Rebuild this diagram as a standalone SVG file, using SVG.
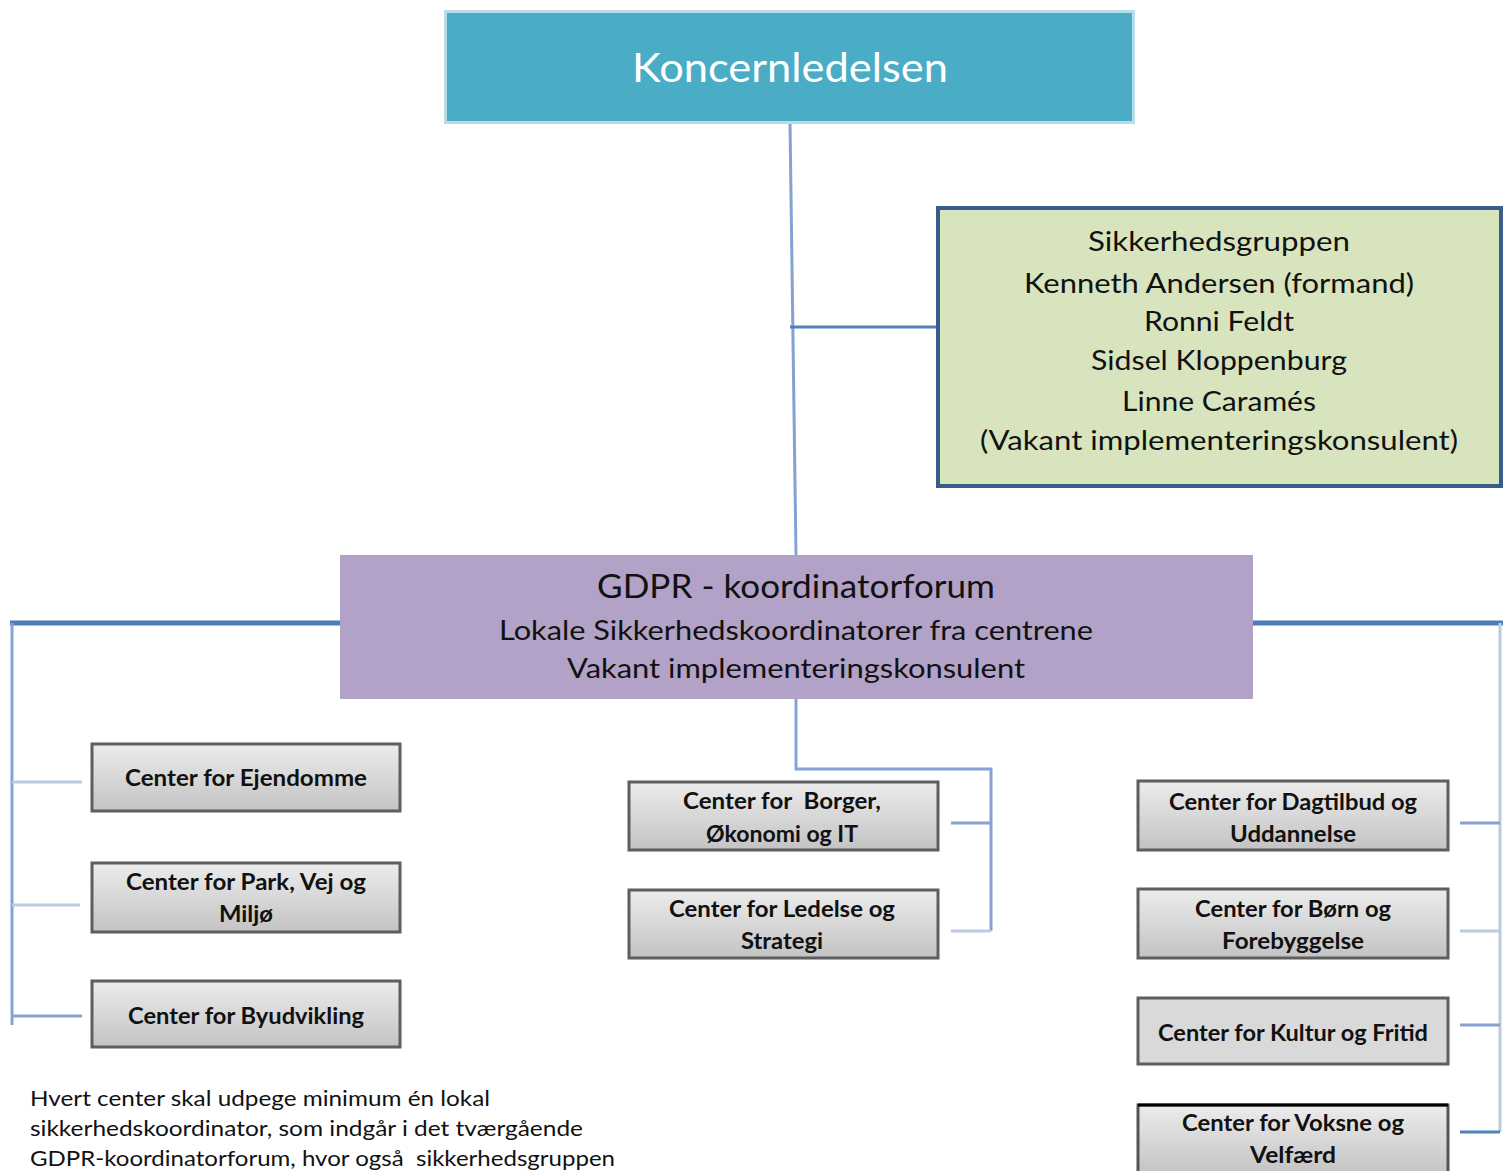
<svg xmlns="http://www.w3.org/2000/svg" width="1512" height="1171" viewBox="0 0 1512 1171">
<defs>
<linearGradient id="gray" x1="0" y1="0" x2="0" y2="1">
<stop offset="0" stop-color="#ECECEC"/>
<stop offset="1" stop-color="#C3C3C3"/>
</linearGradient>
<style>
.c{font-family:Lato,"Liberation Sans",sans-serif;font-size:22px;fill:#111;text-anchor:middle;font-weight:bold;}
.box{fill:url(#gray);stroke:#5E5E5E;stroke-width:3;}
.ln{fill:none;stroke:#85A2D2;stroke-width:3;}
.thick{fill:none;stroke:#4A7EBB;stroke-width:5;}
.s{font-family:Lato,"Liberation Sans",sans-serif;font-size:27px;fill:#111;text-anchor:middle;}
.g{font-family:Lato,"Liberation Sans",sans-serif;fill:#111;text-anchor:middle;}
.f{font-family:Lato,"Liberation Sans",sans-serif;font-size:21px;fill:#111;}
</style>
</defs>
<rect width="1512" height="1171" fill="#fff"/>
<g id="connectors">
<path class="ln" d="M790 123 L796 555"/>
<path class="ln" d="M790 327 H937" style="stroke:#4F81BD"/>
<path class="thick" d="M10 623 H340"/>
<path class="thick" d="M1253 623 H1503"/>
<path class="ln" d="M12 623 V1025"/>
<path class="ln" d="M12 782 H82" style="stroke:#BCCBE4"/>
<path class="ln" d="M12 905 H80" style="stroke:#BCCBE4"/>
<path class="ln" d="M12 1016 H82"/>
<path class="ln" d="M1500 623 V1132" style="stroke:#BCCBE4"/>
<path class="ln" d="M1460 823 H1500"/>
<path class="ln" d="M1460 931 H1500" style="stroke:#BCCBE4"/>
<path class="ln" d="M1460 1025 H1500"/>
<path class="ln" d="M1460 1132 H1500" style="stroke:#4F81BD"/>
<path class="ln" d="M796 699 V769 H991 V931" />
<path class="ln" d="M951 823 H991"/>
<path class="ln" d="M951 931 H991" style="stroke:#BCCBE4"/>
</g>
<g id="koncernledelsen">
<rect x="445.5" y="11.5" width="688" height="111" fill="#4BACC6" stroke="#B7DEE8" stroke-width="3"/>
<text x="790" y="82" font-family="Lato,'Liberation Sans',sans-serif" font-size="40" fill="#fff" text-anchor="middle" textLength="316" lengthAdjust="spacingAndGlyphs">Koncernledelsen</text>
</g>
<g id="sikkerhedsgruppen">
<rect x="938" y="208" width="563" height="278" fill="#D7E4BD" stroke="#385D8A" stroke-width="4"/>
<text class="s" x="1219" y="251" textLength="262" lengthAdjust="spacingAndGlyphs">Sikkerhedsgruppen</text>
<text class="s" x="1219" y="293" textLength="390" lengthAdjust="spacingAndGlyphs">Kenneth Andersen (formand)</text>
<text class="s" x="1219" y="331" textLength="150" lengthAdjust="spacingAndGlyphs">Ronni Feldt</text>
<text class="s" x="1219" y="370" textLength="256" lengthAdjust="spacingAndGlyphs">Sidsel Kloppenburg</text>
<text class="s" x="1219" y="411" textLength="194" lengthAdjust="spacingAndGlyphs">Linne Caramés</text>
<text class="s" x="1219" y="450" textLength="478" lengthAdjust="spacingAndGlyphs">(Vakant implementeringskonsulent)</text>
</g>
<g id="gdpr">
<rect x="340" y="555" width="913" height="144" fill="#B2A2C7"/>
<text class="g" x="796" y="598" font-size="32" textLength="398" lengthAdjust="spacingAndGlyphs">GDPR - koordinatorforum</text>
<text class="g" x="796" y="640" font-size="26" textLength="594" lengthAdjust="spacingAndGlyphs">Lokale Sikkerhedskoordinatorer fra centrene</text>
<text class="g" x="796" y="678" font-size="26" textLength="458" lengthAdjust="spacingAndGlyphs">Vakant implementeringskonsulent</text>
</g>
<g id="ejendomme">
<rect class="box" x="92" y="744" width="308" height="67"/>
<text class="c" x="246" y="786" textLength="242" lengthAdjust="spacingAndGlyphs">Center for Ejendomme</text>
</g>
<g id="park">
<rect class="box" x="92" y="863" width="308" height="69"/>
<text class="c" x="246" y="890" textLength="240" lengthAdjust="spacingAndGlyphs">Center for Park, Vej og</text>
<text class="c" x="246" y="922" textLength="54" lengthAdjust="spacingAndGlyphs">Miljø</text>
</g>
<g id="byudvikling">
<rect class="box" x="92" y="981" width="308" height="66"/>
<text class="c" x="246" y="1024" textLength="236" lengthAdjust="spacingAndGlyphs">Center for Byudvikling</text>
</g>
<g id="borger">
<rect class="box" x="629" y="782" width="309" height="68"/>
<text class="c" x="782" y="809" textLength="198" lengthAdjust="spacingAndGlyphs" xml:space="preserve">Center for  Borger,</text>
<text class="c" x="782" y="842" textLength="152" lengthAdjust="spacingAndGlyphs">Økonomi og IT</text>
</g>
<g id="ledelse">
<rect class="box" x="629" y="890" width="309" height="68"/>
<text class="c" x="782" y="917" textLength="226" lengthAdjust="spacingAndGlyphs">Center for Ledelse og</text>
<text class="c" x="782" y="949" textLength="82" lengthAdjust="spacingAndGlyphs">Strategi</text>
</g>
<g id="dagtilbud">
<rect class="box" x="1138" y="781" width="310" height="69"/>
<text class="c" x="1293" y="810" textLength="248" lengthAdjust="spacingAndGlyphs">Center for Dagtilbud og</text>
<text class="c" x="1293" y="842" textLength="126" lengthAdjust="spacingAndGlyphs">Uddannelse</text>
</g>
<g id="boern">
<rect class="box" x="1138" y="889" width="310" height="69"/>
<text class="c" x="1293" y="917" textLength="196" lengthAdjust="spacingAndGlyphs">Center for Børn og</text>
<text class="c" x="1293" y="949" textLength="142" lengthAdjust="spacingAndGlyphs">Forebyggelse</text>
</g>
<g id="kultur">
<rect class="box" x="1138" y="998" width="310" height="66" style="fill:#D9D9D9"/>
<text class="c" x="1293" y="1041" textLength="270" lengthAdjust="spacingAndGlyphs">Center for Kultur og Fritid</text>
</g>
<g id="voksne">
<rect class="box" x="1138" y="1105" width="310" height="70" style="stroke:#555"/>
<line x1="1138" y1="1105" x2="1448" y2="1105" stroke="#000" stroke-width="3"/>
<text class="c" x="1293" y="1131" textLength="222" lengthAdjust="spacingAndGlyphs">Center for Voksne og</text>
<text class="c" x="1293" y="1163" textLength="86" lengthAdjust="spacingAndGlyphs">Velfærd</text>
</g>
<g id="footnote">
<text class="f" x="30" y="1106" textLength="460" lengthAdjust="spacingAndGlyphs">Hvert center skal udpege minimum én lokal</text>
<text class="f" x="30" y="1136" textLength="553" lengthAdjust="spacingAndGlyphs">sikkerhedskoordinator, som indgår i det tværgående</text>
<text class="f" x="30" y="1166" textLength="585" lengthAdjust="spacingAndGlyphs" xml:space="preserve">GDPR-koordinatorforum, hvor også  sikkerhedsgruppen</text>
</g>
</svg>
